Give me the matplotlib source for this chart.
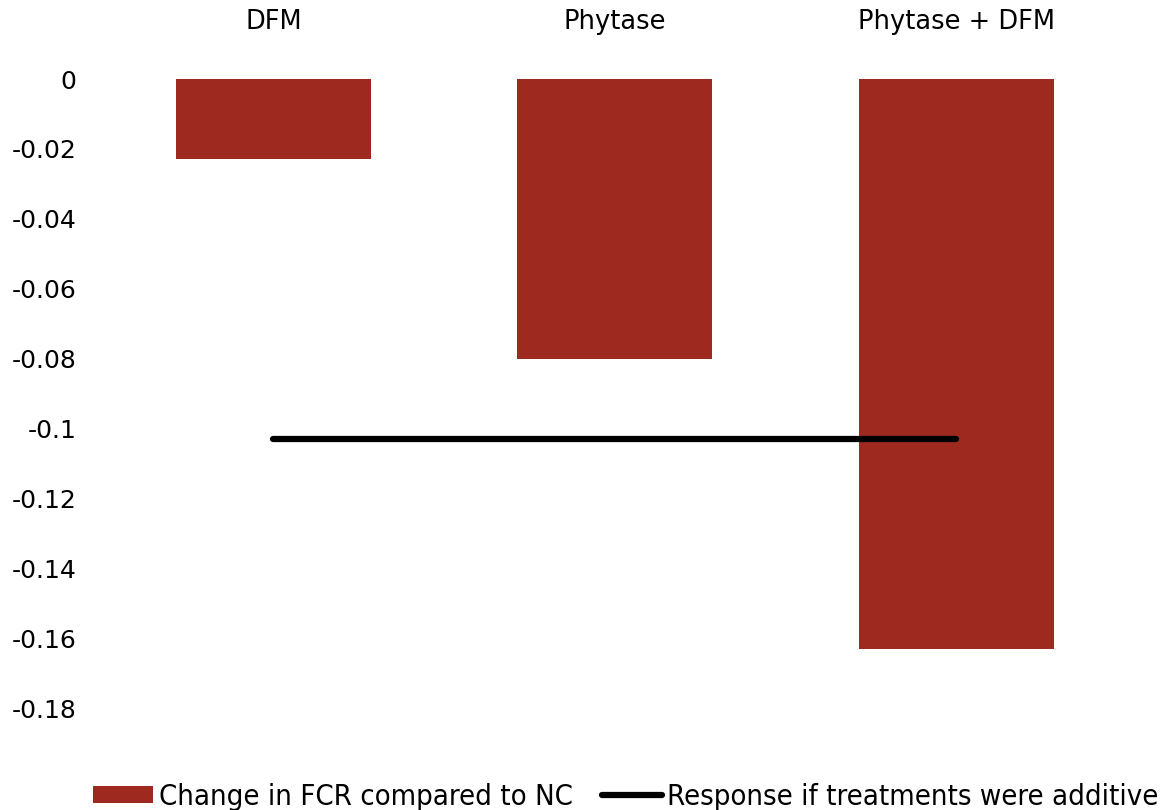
import numpy as np
import matplotlib
matplotlib.use("Agg")
import matplotlib.pyplot as plt
from matplotlib.font_manager import FontProperties

# FCR response data
treatments = ["DFM", "Phytase", "Phytase + DFM"]
fcr_change = [-0.023, -0.080, -0.163]
additive_response = [-0.103, -0.103]   # DFM + Phytase effects summed
additive_span = ["DFM", "Phytase + DFM"]
y_ticks = [0, -0.02, -0.04, -0.06, -0.08, -0.1, -0.12, -0.14, -0.16, -0.18]
y_tick_labels = ["0", "-0.02", "-0.04", "-0.06", "-0.08", "-0.1",
                 "-0.12", "-0.14", "-0.16", "-0.18"]

bar_color = "#9e2a1f"

fig = plt.figure(figsize=(11.72, 8.10), dpi=100)
ax = fig.add_axes([102.75 / 1172, 1 - 708 / 810, (1127 - 102.75) / 1172, (708 - 79) / 810])

x = np.arange(len(treatments))
bars = ax.bar(x, fcr_change, width=0.571, color=bar_color,
              label="Change in FCR compared to NC")

# line from first to last treatment
line_x = [treatments.index(t) for t in additive_span]
line, = ax.plot(line_x, additive_response, color="black", lw=4.5, solid_capstyle="round",
                label="Response if treatments were additive")

ax.set_xlim(-0.5, len(treatments) - 0.5)
ax.set_ylim(-0.18, 0)
ax.set_yticks(y_ticks)
ax.set_yticklabels(y_tick_labels)
ax.set_xticks(x)
ax.set_xticklabels(treatments)
ax.xaxis.tick_top()
ax.tick_params(axis="x", length=0, pad=32, labelsize=18.5)
ax.tick_params(axis="y", length=0, pad=19, labelsize=18)
for s in ax.spines.values():
    s.set_visible(False)

legend_font = FontProperties(family="DejaVu Sans", stretch="condensed", size=21)
leg = fig.legend(handles=[bars, line], loc="center",
                 bbox_to_anchor=(626 / 1172, 1 - 797 / 810), ncol=2,
                 frameon=False, prop=legend_font, handlelength=2.05, handleheight=0.55,
                 handletextpad=0.2, columnspacing=1.0, borderaxespad=0)

fig.savefig("out.png", dpi=100)
